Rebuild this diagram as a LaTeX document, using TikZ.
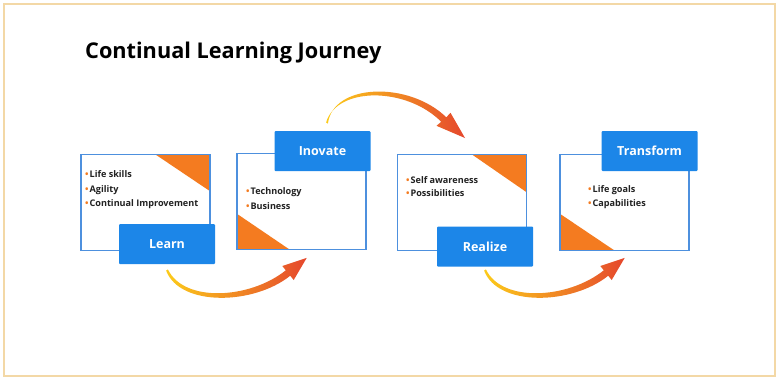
\documentclass[tikz,border=0pt]{standalone}
\usepackage{fontspec}
\setmainfont{Open Sans}
\definecolor{btnblue}{HTML}{1C86E8}
\definecolor{cardblue}{HTML}{4D90DE}
\definecolor{triorange}{HTML}{F47B20}
\definecolor{txtdark}{HTML}{222222}
\definecolor{framebeige}{HTML}{F3D8A6}
\definecolor{ayellow}{HTML}{FCCB1A}
\definecolor{aorange}{HTML}{F5A02C}
\definecolor{ared}{HTML}{E5472D}
\begin{document}
\begin{tikzpicture}[x=1pt,y=-1pt,
  card/.style={draw=cardblue, line width=1.6pt, minimum width=129pt, minimum height=96pt, inner sep=0pt},
  cardbg/.style={fill=white, minimum width=129pt, minimum height=96pt, inner sep=0pt},
  btn/.style={fill=btnblue, minimum width=96pt, minimum height=40pt, inner sep=0pt, rounded corners=1pt,
    text=white, font=\bfseries\fontsize{12.5}{14}\selectfont},
  item/.style={anchor=base west, inner sep=0pt, text=txtdark, font=\bfseries\fontsize{9.1}{11}\selectfont},
  tri/.style={fill=triorange},
  jarrow/.pic={
    \shade[left color=ayellow, middle color=aorange, right color=ared]
      (0.9,-0.6) .. controls (17,33) and (83,29) .. (118.8,0.3)
      -- (115.3,-4) -- (139.7,-12.1) -- (126.7,10) -- (123.2,5.7)
      .. controls (87,35) and (13,37) .. (-0.9,0.6) -- cycle;
  },
  jarrowup/.pic={
    \shade[left color=ayellow, middle color=aorange, right color=ared]
      (-0.9,-0.6) .. controls (10,-37) and (80,-36) .. (114.2,-1.2)
      -- (109.5,2.8) -- (138,15) -- (123.5,-10.2) -- (119.3,-5.7)
      .. controls (82,-42) and (6,-40) .. (0.9,0.6) -- cycle;
  }]
\useasboundingbox (0,0) rectangle (779,381);
\fill[white] (0,0) rectangle (779,381);
\draw[framebeige, line width=2pt] (4,3.5) rectangle (774.5,375.5);

\node[anchor=base west, inner sep=0pt, text=black, font=\bfseries\fontsize{21.7}{26}\selectfont] (title) at (85,58) {Continual Learning Journey};

% card backgrounds
\node[cardbg] (c1bg) at (145.5,202.5) {};
\node[cardbg] (c2bg) at (301.5,201.5) {};
\node[cardbg] (c3bg) at (462,202.5) {};
\node[cardbg] (c4bg) at (624.5,202.5) {};

% triangles
\fill[tri] (c1bg.north east) -- ++(-55,0) -- ++(55,37) -- cycle;
\fill[tri] (c2bg.south west) -- ++(0,-36) -- ++(53,36) -- cycle;
\fill[tri] (c3bg.north east) -- ++(-55,0) -- ++(55,38) -- cycle;
\fill[tri] (c4bg.south west) -- ++(0,-37) -- ++(55,37) -- cycle;

% card borders
\node[card] (c1) at (c1bg) {};
\node[card] (c2) at (c2bg) {};
\node[card] (c3) at (c3bg) {};
\node[card] (c4) at (c4bg) {};

% items
\node[item] (i11) at (85,177) {{\color{triorange}•}\hspace{1pt}Life skills};
\node[item] (i12) at (85,192) {{\color{triorange}•}\hspace{1pt}Agility};
\node[item] (i13) at (85,206) {{\color{triorange}•}\hspace{1pt}Continual Improvement};
\node[item] (i21) at (246,194) {{\color{triorange}•}\hspace{1pt}Technology};
\node[item] (i22) at (246,209) {{\color{triorange}•}\hspace{1pt}Business};
\node[item] (i31) at (406,183) {{\color{triorange}•}\hspace{1pt}Self awareness};
\node[item] (i32) at (406,196) {{\color{triorange}•}\hspace{1pt}Possibilities};
\node[item] (i41) at (588,192) {{\color{triorange}•}\hspace{1pt}Life goals};
\node[item] (i42) at (588,206) {{\color{triorange}•}\hspace{1pt}Capabilities};

% buttons
\node[btn] (b1) at (167,244) {Learn};
\node[btn] (b2) at (322.5,151) {Inovate};
\node[btn] (b3) at (485,246.5) {Realize};
\node[btn] (b4) at (649.5,151) {Transform};

% arrows
\coordinate (a1s) at (167,270);
\coordinate (a2s) at (327,123);
\coordinate (a3s) at (485,270);
\pic at (a1s) {jarrow};
\pic at (a2s) {jarrowup};
\pic at (a3s) {jarrow};
\end{tikzpicture}
\end{document}
